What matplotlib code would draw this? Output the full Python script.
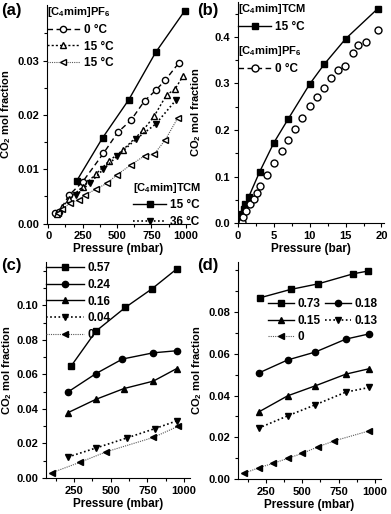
import matplotlib
matplotlib.use('Agg')
import matplotlib.pyplot as plt
from matplotlib.lines import Line2D
from matplotlib.ticker import MultipleLocator, FixedLocator, FormatStrFormatter

plt.rcParams['font.family'] = ['Liberation Sans', 'DejaVu Sans']
plt.rcParams['font.weight'] = 'bold'
plt.rcParams['axes.labelweight'] = 'bold'
plt.rcParams['font.size'] = 9
plt.rcParams['mathtext.fontset'] = 'custom'
plt.rcParams['mathtext.rm'] = 'Liberation Sans:bold'
plt.rcParams['mathtext.bf'] = 'Liberation Sans:bold'
plt.rcParams['mathtext.default'] = 'rm'

# (a) low pressure, mbar
a_tcm15_p = [205, 395, 585, 780, 990]
a_tcm15_y = [0.0078, 0.0158, 0.0228, 0.0315, 0.0391]
a_pf0_p = [50, 80, 150, 250, 400, 505, 600, 700, 780, 850, 950]
a_pf0_y = [0.0019, 0.0022, 0.0052, 0.0077, 0.0129, 0.0168, 0.0190, 0.0226, 0.0245, 0.0264, 0.0296]
a_pf15_p = [60, 100, 150, 250, 350, 440, 540, 690, 770, 860, 920, 980]
a_pf15_y = [0.0018, 0.0030, 0.0045, 0.0068, 0.0092, 0.0115, 0.0135, 0.0172, 0.0198, 0.0237, 0.0247, 0.0272]
a_pf15b_p = [70, 100, 160, 220, 270, 350, 425, 500, 600, 700, 770, 850, 940]
a_pf15b_y = [0.0020, 0.0026, 0.0038, 0.0044, 0.0053, 0.0064, 0.0074, 0.0090, 0.0108, 0.0125, 0.0128, 0.0154, 0.0194]
a_tcm36_p = [200, 300, 400, 500, 640, 780, 930]
a_tcm36_y = [0.0052, 0.0074, 0.0100, 0.0124, 0.0156, 0.0183, 0.0228]

# (b) high pressure, bar
b_tcm_p = [0.1, 0.3, 0.5, 0.8, 1.0, 1.5, 3.0, 5.0, 7.0, 10.0, 12.0, 15.0, 19.5]
b_tcm_y = [0.006, 0.013, 0.020, 0.031, 0.040, 0.057, 0.110, 0.173, 0.224, 0.299, 0.341, 0.396, 0.461]
b_pf_p = [0.5, 0.7, 1.1, 1.6, 2.2, 2.7, 3.1, 4.0, 5.0, 6.1, 7.0, 8.0, 8.9, 10.0,
          11.0, 12.0, 13.0, 13.9, 14.9, 16.0, 16.8, 17.9, 19.5]
b_pf_y = [0.002, 0.013, 0.027, 0.040, 0.051, 0.065, 0.080, 0.104, 0.129, 0.154, 0.179, 0.203, 0.226, 0.251,
          0.270, 0.291, 0.312, 0.329, 0.338, 0.366, 0.382, 0.389, 0.416]

# (c) mixtures
c_labels = ['0.57', '0.24', '0.16', '0.04', '0']
c_p = [[230, 400, 600, 780, 950],
       [210, 400, 580, 790, 950],
       [210, 400, 590, 790, 950],
       [210, 400, 610, 800, 950],
       [100, 290, 470, 790, 960]]
c_y = [[0.0648, 0.0851, 0.0988, 0.1095, 0.1211],
       [0.0499, 0.0605, 0.0689, 0.0725, 0.0737],
       [0.0379, 0.0456, 0.0518, 0.0561, 0.0634],
       [0.0122, 0.0174, 0.0232, 0.0286, 0.0331],
       [0.0031, 0.0091, 0.0152, 0.0235, 0.0300]]

# (d) mixtures
d_labels = ['0.73', '0.18', '0.15', '0.13', '0']
d_p = [[210, 420, 610, 850, 950],
       [200, 400, 590, 800, 960],
       [200, 400, 590, 800, 960],
       [200, 400, 590, 800, 960],
       [100, 200, 300, 400, 500, 610, 720, 960]]
d_y = [[0.0869, 0.0909, 0.0936, 0.0984, 0.0997],
       [0.0508, 0.0571, 0.0609, 0.0671, 0.0696],
       [0.0321, 0.0399, 0.0447, 0.0503, 0.0529],
       [0.0244, 0.0303, 0.0356, 0.0417, 0.0439],
       [0.0027, 0.0054, 0.0075, 0.0099, 0.0123, 0.0155, 0.0183, 0.0231]]

MS = 4.5
styles = [dict(marker='s', ls='-', color='k', mfc='k', lw=1.0),
          dict(marker='o', ls='-', color='k', mfc='k', lw=1.0),
          dict(marker='^', ls='-', color='k', mfc='k', lw=1.0),
          dict(marker='v', ls=(0, (1, 1.5)), color='k', mfc='k', lw=1.2),
          dict(marker='<', ls=(0, (1, 1)), color='0.35', mfc='k', mec='k', lw=0.8)]

fig = plt.figure(figsize=(3.91, 5.14), dpi=100)
ax_a = fig.add_axes([0.120, 0.565, 0.366, 0.425])
ax_b = fig.add_axes([0.609, 0.566, 0.372, 0.430])
ax_c = fig.add_axes([0.118, 0.070, 0.368, 0.420])
ax_d = fig.add_axes([0.609, 0.068, 0.365, 0.422])


def style_axes(ax, labelx):
    for s in ['top', 'right']:
        ax.spines[s].set_visible(False)
    ax.tick_params(direction='out', length=3, width=0.8, labelsize=8, pad=2.5)
    ax.tick_params(which='minor', direction='out', length=2, width=0.8)
    ax.set_ylabel(r'CO$_2$ mol fraction', fontsize=8)
    ax.yaxis.set_label_coords(labelx, 0.5)


def make_legend(ax, handles, labels, title, anchor, loc, ncol=1, hl=2.8):
    leg = ax.legend(handles, labels, title=title, loc=loc, bbox_to_anchor=anchor,
                    frameon=False, numpoints=1, handlelength=hl, handletextpad=0.3,
                    borderpad=0, borderaxespad=0, labelspacing=0.4, ncol=ncol,
                    columnspacing=0.4, fontsize=8.5, title_fontsize=8, alignment='left')
    leg.get_title().set_fontweight('bold')
    return leg


# (a)
l1, = ax_a.plot(a_tcm15_p, a_tcm15_y, marker='s', ls='-', color='k', ms=MS, lw=1.0, clip_on=False)
l2, = ax_a.plot(a_pf0_p, a_pf0_y, marker='o', ls=(0, (4, 2.5)), color='k', mfc='white', ms=MS, lw=1.0)
l3, = ax_a.plot(a_pf15_p, a_pf15_y, marker='^', ls=(0, (1.5, 1.5)), color='k', mfc='white', ms=MS, lw=1.0)
l4, = ax_a.plot(a_pf15b_p, a_pf15b_y, marker='<', ls=(0, (1, 1)), color='0.35', mec='k', mfc='white', ms=MS, lw=0.8)
l5, = ax_a.plot(a_tcm36_p, a_tcm36_y, marker='v', ls=(0, (1, 1.5)), color='k', mfc='k', ms=MS, lw=1.2)
ax_a.set_xlim(-10, 1030)
ax_a.set_ylim(0, 0.0402)
ax_a.xaxis.set_major_locator(MultipleLocator(250))
ax_a.xaxis.set_minor_locator(MultipleLocator(125))
ax_a.yaxis.set_major_locator(FixedLocator([0, 0.01, 0.02, 0.03]))
ax_a.yaxis.set_minor_locator(FixedLocator([0.005, 0.015, 0.025, 0.035]))
ax_a.yaxis.set_major_formatter(FormatStrFormatter('%.2f'))
ax_a.set_xlabel('Pressure (mbar)', fontsize=8.5, labelpad=1.5)
style_axes(ax_a, -0.24)
leg_a1 = make_legend(ax_a, [l2, l3, l4], ['0 °C', '15 °C', '15 °C'],
                     r'[C$_4$mim]PF$_6$', (0.0, 1.0), 'upper left')
ax_a.add_artist(leg_a1)
make_legend(ax_a, [l1, l5], ['15 °C', '36 °C'], r'[C$_4$mim]TCM', (1.08, -0.02), 'lower right')

# (b)
m1, = ax_b.plot(b_tcm_p, b_tcm_y, marker='s', ls='-', color='k', ms=MS, lw=1.0)
ax_b.plot(b_pf_p, b_pf_y, marker='o', ls='none', color='k', mfc='white', ms=MS + 0.5)
m2 = Line2D([], [], marker='o', ls=(0, (4, 2.5)), color='k', mfc='white', ms=MS + 0.5, lw=1.0)
ax_b.set_xlim(0, 20.3)
ax_b.set_ylim(0, 0.475)
ax_b.xaxis.set_major_locator(MultipleLocator(5))
ax_b.xaxis.set_minor_locator(MultipleLocator(2.5))
ax_b.yaxis.set_major_locator(MultipleLocator(0.1))
ax_b.yaxis.set_minor_locator(MultipleLocator(0.05))
ax_b.yaxis.set_major_formatter(FormatStrFormatter('%.1f'))
ax_b.set_xlabel('Pressure (bar)', fontsize=8.5, labelpad=1.5)
style_axes(ax_b, -0.24)
leg_b1 = make_legend(ax_b, [m1], ['15 °C'], r'[C$_4$mim]TCM', (0.0, 1.0), 'upper left')
ax_b.add_artist(leg_b1)
make_legend(ax_b, [m2], ['0 °C'], r'[C$_4$mim]PF$_6$', (0.0, 0.81), 'upper left')

# (c) and (d)
for ax, labels, ps, ys, ylim, top in [(ax_c, c_labels, c_p, c_y, 0.125, 0.10),
                                      (ax_d, d_labels, d_p, d_y, 0.104, 0.08)]:
    hs = []
    for st, p, y in zip(styles, ps, ys):
        h, = ax.plot(p, y, ms=MS, **st)
        hs.append(h)
    ax.set_xlim(60, 1040)
    ax.set_ylim(0, ylim)
    ax.xaxis.set_major_locator(MultipleLocator(250))
    ax.xaxis.set_minor_locator(MultipleLocator(125))
    majors = [i * 0.02 for i in range(int(round(top / 0.02)) + 1)]
    ax.yaxis.set_major_locator(FixedLocator(majors))
    ax.yaxis.set_minor_locator(MultipleLocator(0.01))
    ax.yaxis.set_major_formatter(FormatStrFormatter('%.2f'))
    ax.set_xlabel('Pressure (mbar)', fontsize=8.5, labelpad=1.5)
    if ax is ax_c:
        style_axes(ax, -0.225)
        make_legend(ax, hs, labels, None, (0.0, 1.0), 'upper left', hl=3.2)
    else:
        style_axes(ax, -0.24)
        order = [0, 2, 4, 1, 3]
        make_legend(ax, [hs[i] for i in order], [labels[i] for i in order], None,
                    (0.21, 0.835), 'upper left', ncol=2, hl=2.2)

for lab, (x, y) in zip(['(a)', '(b)', '(c)', '(d)'],
                       [(0.003, 0.994), (0.505, 0.994), (0.003, 0.499), (0.505, 0.499)]):
    fig.text(x, y, lab, fontsize=12, fontweight='bold', va='top', ha='left')

fig.savefig('out.png', dpi=100)
